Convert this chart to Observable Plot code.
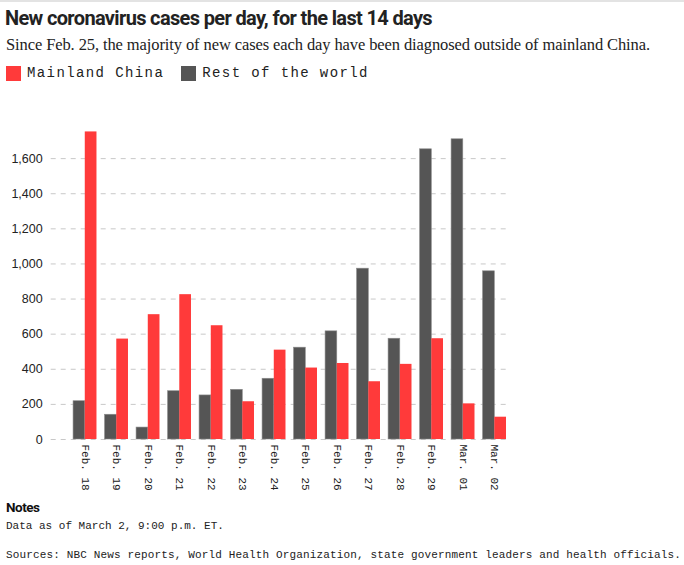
<!DOCTYPE html>
<html><head><meta charset="utf-8">
<script src="https://cdn.jsdelivr.net/npm/d3@7"></script>
<script src="https://cdn.jsdelivr.net/npm/@observablehq/plot@0.6"></script>
<style>
html,body{margin:0;padding:0;background:#fff;}
#wrap{width:684px;height:565px;position:relative;border-top:2px solid #e3e3e3;box-sizing:border-box;overflow:hidden;}
.abs{position:absolute;left:6px;white-space:nowrap;}
#title{top:4px;left:5px;font-family:"Roboto",sans-serif;font-weight:700;font-size:20px;color:#222;letter-spacing:0px;}
#sub{top:33px;font-family:"Liberation Serif",serif;font-size:16.5px;color:#222;letter-spacing:0px;}
#legend{top:63px;font-family:"Liberation Mono",monospace;font-size:14px;letter-spacing:1.4px;color:#222;display:flex;align-items:center;}
.sw{display:inline-block;width:15px;height:15px;margin-right:6px;}
#chart{position:absolute;top:93px;left:0;}
#notesH{top:497px;font-family:"Roboto",sans-serif;font-weight:700;font-size:13.5px;letter-spacing:-0.5px;color:#111;}
#notes{top:518px;font-family:"Liberation Mono",monospace;font-size:11px;color:#222;}
#src{top:547px;font-family:"Liberation Mono",monospace;font-size:11px;letter-spacing:0.15px;color:#222;}
</style></head>
<body>
<div id="wrap">
  <div id="title" class="abs">New coronavirus cases per day, for the last 14 days</div>
  <div id="sub" class="abs">Since Feb. 25, the majority of new cases each day have been diagnosed outside of mainland China.</div>
  <div id="legend" class="abs"></div>
  <div id="chart"></div>
  <div id="notesH" class="abs">Notes</div>
  <div id="notes" class="abs">Data as of March 2, 9:00 p.m. ET.</div>
  <div id="src" class="abs">Sources: NBC News reports, World Health Organization, state government leaders and health officials.</div>
</div>
<script>
const dates = ["Feb. 18","Feb. 19","Feb. 20","Feb. 21","Feb. 22","Feb. 23","Feb. 24","Feb. 25","Feb. 26","Feb. 27","Feb. 28","Feb. 29","Mar. 01","Mar. 02"];
const mainlandChina = [1752,572,711,825,648,215,509,407,433,329,428,574,203,127];
const restOfWorld = [218,141,68,275,251,283,346,523,616,973,574,1653,1710,958];
const yTicks = [0,200,400,600,800,1000,1200,1400,1600];
const seriesNames = ["Mainland China","Rest of the world"];
const seriesColors = ["#ff3a3a","#555555"];

// fit text widths to the reference
function fitWidth(id, target){
  const el=document.getElementById(id);
  const w=el.getBoundingClientRect().width;
  const n=el.textContent.length;
  el.style.letterSpacing=((target-w)/n)+"px";
}
fitWidth("title", 427);
fitWidth("sub", 644);

// legend
const lg = document.getElementById("legend");
seriesNames.forEach((n,i)=>{
  const s=document.createElement("span");s.className="sw";s.style.background=seriesColors[i];
  const t=document.createElement("span");t.textContent=n;t.style.marginRight=i===0?"17px":"0";
  lg.appendChild(s);lg.appendChild(t);
});

const W=684, H=402, mL=50.7, mR=178, mT=28, mB=58;
const pIn=0.257, pOut=0.355;
const bw = d3.scaleBand().domain(dates).range([mL, W-mR]).paddingInner(pIn).paddingOuter(pOut).align(1).bandwidth();

const red = dates.map((d,i)=>({date:d, value:mainlandChina[i]}));
const grey = dates.map((d,i)=>({date:d, value:restOfWorld[i]}));

const chart = Plot.plot({
  width:W, height:H, marginLeft:mL, marginRight:mR, marginTop:mT, marginBottom:mB,
  style:{background:"transparent"},
  x:{type:"band", domain:dates, paddingInner:pIn, paddingOuter:pOut, align:1, round:false, label:null},
  y:{domain:[0,1800], label:null},
  marks:[
    Plot.gridY(yTicks,{stroke:"#c8c8c8", strokeOpacity:1, strokeDasharray:"5,5"}),
    Plot.barY(grey,{x:"date", y:"value", fill:seriesColors[1], insetRight:bw/2, insetLeft:0, stroke:"#8a8a8a", strokeWidth:0.6}),
    Plot.barY(red,{x:"date", y:"value", fill:seriesColors[0], insetLeft:bw/2, insetRight:0}),
    Plot.axisY(yTicks,{tickSize:0, tickPadding:8.5, tickFormat:d3.format(",.0f"), fontSize:12.5, fontFamily:"Liberation Sans, Arial, sans-serif", fill:"#222", label:null, style:{letterSpacing:"0.6px"}}),
    Plot.axisX({tickSize:0, tickRotate:90, tickPadding:5, fontSize:11, fontFamily:"Liberation Mono, monospace", fill:"#222", label:null})
  ]
});
document.getElementById("chart").appendChild(chart);
</script>
</body></html>
